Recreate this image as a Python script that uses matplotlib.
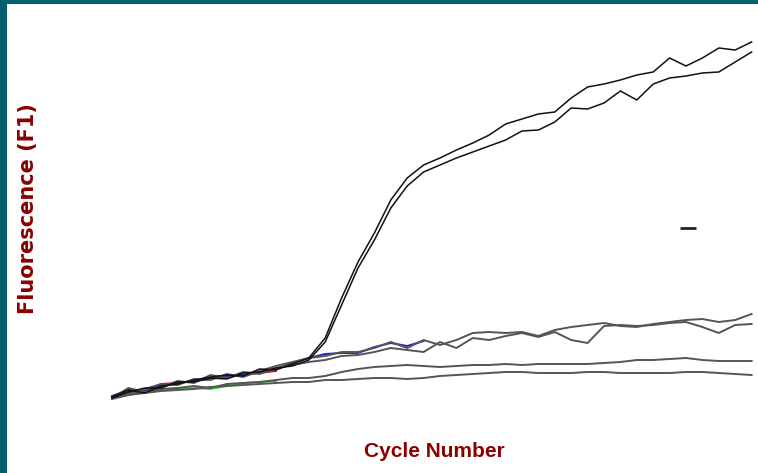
import matplotlib.pyplot as plt
import numpy as np

# Amplification curves, fluorescence in arbitrary units per cycle
cycles = np.arange(1, 41)

sample_a = [3, 10, 7, 14, 16, 20, 23, 25, 24, 31, 30, 36, 42, 62, 102, 138, 167, 200, 222, 235,
            242, 250, 257, 265, 276, 281, 286, 288, 302, 313, 316, 320, 325, 328, 342, 334, 342, 352, 350, 358]
sample_b = [2, 8, 12, 12, 18, 18, 22, 21, 27, 28, 32, 34, 40, 58, 95, 132, 160, 192, 214, 228,
            235, 242, 248, 254, 260, 269, 270, 278, 292, 291, 297, 309, 300, 316, 322, 324, 327, 328, 338, 348]
sample_c = [4, 7, 11, 16, 15, 21, 20, 26, 23, 29, 34, 38, 42, 44, 48, 48, 52, 58, 52, 60,
            55, 60, 67, 68, 67, 68, 64, 70, 73, 75, 77, 74, 73, 76, 78, 80, 81, 78, 80, 86]
sample_d = [2, 12, 8, 13, 19, 17, 25, 22, 28, 26, 32, 35, 38, 40, 44, 45, 48, 52, 50, 48,
            58, 52, 62, 60, 64, 67, 63, 68, 60, 57, 74, 75, 74, 75, 77, 78, 73, 67, 75, 76]
sample_e = [3, 6, 8, 11, 12, 14, 12, 16, 17, 18, 20, 22, 22, 24, 28, 31, 33, 34, 35, 34,
            33, 34, 35, 35, 36, 35, 36, 36, 36, 36, 37, 38, 40, 40, 41, 42, 40, 39, 39, 39]
sample_f = [1, 5, 7, 9, 10, 11, 13, 14, 15, 16, 17, 18, 18, 20, 20, 21, 22, 22, 21, 22,
            24, 25, 26, 27, 28, 28, 27, 27, 27, 28, 28, 27, 27, 27, 27, 28, 28, 27, 26, 25]

# partial traces mostly hidden under the others
green_trace = [2, 5, 8, 10, 11, 12, 11, 14, 17, 18, 19]
red_trace = [3, 8, 9, 16, 17, 19, 22, 23, 25, 27, 29]
blue_trace = [4, 10, 9, 15, 17, 19, 21, 24, 25, 28, 31, 37, 42, 46, 47, 47, 53, 57, 54, 59]

marker_cycle = 36.1
marker_value = 172

fig = plt.figure(figsize=(7.58, 4.73), dpi=100)
fig.patch.set_facecolor('#03606c')

W, H = 758, 473
left, top = 7, 4
ax = fig.add_axes([left / W, 0, (W - left) / W, (H - top) / H])
ax.set_facecolor('white')

ax.plot(cycles[:11], green_trace, color='#22dd22', lw=1.4)
ax.plot(cycles[:11], red_trace, color='#dd1111', lw=1.4)
ax.plot(cycles[:20], blue_trace, color='#2222dd', lw=1.4)

for s in [sample_f, sample_e, sample_d, sample_c]:
    ax.plot(cycles, s, color='#555555', lw=1.4)
for s in [sample_b, sample_a]:
    ax.plot(cycles, s, color='#111111', lw=1.1)

ax.plot([marker_cycle], [marker_value], marker='_', markersize=11,
        markeredgewidth=2, color='#222222')

# pixel-calibrated limits: cycle 1 at x=112, 16.4 px per cycle; F = 400 - y
ax.set_xlim((left - 112) / 16.4 + 1, (W - 112) / 16.4 + 1)
ax.set_ylim(400 - H, 400 - top)
ax.set_xticks([])
ax.set_yticks([])
for sp in ax.spines.values():
    sp.set_visible(False)

fig.text(28 / W, 1 - 209 / H, 'Fluorescence (F1)', rotation=90,
         ha='center', va='center', fontsize=15, fontweight='bold',
         family='DejaVu Sans', color='#8a0000')
fig.text(434 / W, 1 - 451 / H, 'Cycle Number', ha='center', va='center',
         fontsize=15, fontweight='bold', family='Liberation Sans', color='#8a0000')

fig.savefig('out.png', dpi=100, facecolor=fig.get_facecolor())
